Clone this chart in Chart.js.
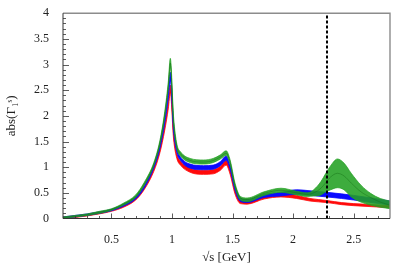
<!DOCTYPE html>
<html><head><meta charset="utf-8">
<script src="https://cdn.jsdelivr.net/npm/chart.js@4"></script>
<style>html,body{margin:0;padding:0;background:#fff}canvas{display:block}</style>
</head><body>
<canvas id="c" width="412" height="269"></canvas>
<script>
// ---- data ----
const xRB = [0.1,0.2,0.3,0.4,0.5,0.6,0.7,0.77,0.85,0.9,0.94,0.97,0.986,1.013,1.04,1.07,1.15,1.26,1.34,1.40,1.447,1.48,1.52,1.565,1.62,1.76,1.9,2.03,2.14,2.28,2.4,2.5,2.65,2.8];
const redLo  = [0.00,0.02,0.05,0.09,0.14,0.22,0.36,0.56,0.92,1.28,1.72,2.15,2.45,1.55,1.17,1.04,0.90,0.86,0.87,0.94,1.04,0.86,0.48,0.29,0.28,0.38,0.42,0.39,0.34,0.31,0.27,0.25,0.23,0.21];
const redHi  = [0.03,0.05,0.08,0.12,0.17,0.26,0.40,0.61,0.98,1.36,1.82,2.28,2.60,1.65,1.25,1.12,0.98,0.94,0.95,1.02,1.13,0.95,0.56,0.36,0.34,0.44,0.48,0.45,0.39,0.35,0.31,0.29,0.27,0.25];
const blueLo = [0.01,0.03,0.06,0.10,0.15,0.24,0.38,0.59,0.98,1.36,1.85,2.35,2.68,1.70,1.28,1.13,0.98,0.95,0.96,1.03,1.13,0.95,0.55,0.33,0.31,0.41,0.44,0.47,0.45,0.42,0.39,0.36,0.31,0.26];
const blueHi = [0.03,0.06,0.09,0.13,0.18,0.28,0.43,0.64,1.04,1.44,1.95,2.50,2.85,1.80,1.36,1.20,1.06,1.03,1.04,1.11,1.22,1.04,0.63,0.40,0.37,0.47,0.51,0.56,0.54,0.51,0.48,0.45,0.40,0.34];

const xG = [0.1,0.2,0.3,0.4,0.5,0.6,0.7,0.77,0.85,0.9,0.94,0.97,0.986,1.013,1.04,1.07,1.15,1.26,1.34,1.40,1.447,1.48,1.52,1.565,1.62,1.76,1.9,2.03,2.12,2.17,2.23,2.27,2.31,2.366,2.42,2.48,2.56,2.64,2.72,2.8];
const greenLo  = [0.01,0.03,0.06,0.10,0.16,0.26,0.41,0.64,1.03,1.44,1.98,2.55,2.95,1.85,1.36,1.22,1.09,1.06,1.09,1.16,1.23,1.05,0.61,0.36,0.33,0.45,0.51,0.46,0.43,0.44,0.46,0.52,0.56,0.60,0.56,0.42,0.32,0.26,0.22,0.19];
const greenHi  = [0.03,0.06,0.09,0.14,0.19,0.30,0.46,0.70,1.09,1.52,2.08,2.68,3.12,1.98,1.45,1.30,1.17,1.14,1.17,1.24,1.32,1.14,0.69,0.43,0.40,0.52,0.59,0.53,0.50,0.56,0.72,0.88,1.03,1.16,1.08,0.88,0.65,0.49,0.39,0.34];
const greenMid = [0.02,0.045,0.075,0.12,0.175,0.28,0.435,0.67,1.06,1.48,2.03,2.60,3.03,1.90,1.40,1.26,1.13,1.10,1.13,1.20,1.27,1.10,0.65,0.40,0.37,0.49,0.55,0.50,0.47,0.50,0.59,0.70,0.81,0.88,0.83,0.69,0.52,0.41,0.32,0.26];

const thresholdX = 2.28;
const xTicks = [0.5, 1, 1.5, 2, 2.5];
const yTicks = [0, 0.5, 1, 1.5, 2, 2.5, 3, 3.5, 4];
const xRange = [0.1, 2.8];
const yRange = [0, 4];

// ---- helpers ----
const pts = (xs, ys) => xs.map((x, i) => ({x: x, y: ys[i]}));
const RED = 'rgb(255,10,10)', BLUE = 'rgb(10,10,255)', GREEN = 'rgba(34,160,34,0.88)';

function edge(data, color, order, fillTarget) {
  return {
    data: data, borderColor: color, backgroundColor: color, borderWidth: 0.8,
    pointRadius: 0, cubicInterpolationMode: 'monotone', order: order,
    fill: fillTarget === undefined ? false : fillTarget
  };
}

const inwardTicks = {
  id: 'inwardTicks',
  afterDatasetsDraw(chart) {
    const {ctx, chartArea: a, scales: {x, y}} = chart;
    ctx.save();
    ctx.strokeStyle = '#333';
    ctx.lineWidth = 0.8;
    ctx.beginPath();
    for (let i = 2; i <= 27; i++) {
      const px = Math.round(x.getPixelForValue(i / 10)) + 0.5;
      const len = (i % 5 === 0) ? 5 : 2.5;
      ctx.moveTo(px, a.bottom); ctx.lineTo(px, a.bottom - len);
    }
    for (let i = 1; i <= 39; i++) {
      const py = Math.round(y.getPixelForValue(i / 10)) + 0.5;
      const len = (i % 5 === 0) ? 6 : 3;
      ctx.moveTo(a.left, py); ctx.lineTo(a.left + len, py);
    }
    ctx.stroke();
    ctx.strokeStyle = '#8c8c8c';
    ctx.lineWidth = 1.4;
    ctx.beginPath();
    ctx.moveTo(a.left, a.top); ctx.lineTo(a.right, a.top); ctx.lineTo(a.right, a.bottom);
    ctx.stroke();
    ctx.strokeStyle = '#333';
    ctx.lineWidth = 1;
    ctx.beginPath();
    ctx.moveTo(a.left, a.top); ctx.lineTo(a.left, a.bottom); ctx.lineTo(a.right, a.bottom);
    ctx.stroke();
    ctx.restore();
  }
};

Chart.defaults.font.family = "'Liberation Serif', 'DejaVu Serif', serif";
Chart.defaults.color = '#222';

const fmt = v => String(Number(v));

new Chart(document.getElementById('c'), {
  type: 'line',
  data: {
    datasets: [
      { data: [{x: thresholdX, y: yRange[0]}, {x: thresholdX, y: yRange[1]}], borderColor: '#000',
        borderWidth: 2, borderDash: [3, 2], pointRadius: 0, fill: false, order: -1 },
      { data: pts(xG, greenMid), borderColor: 'rgba(20,110,20,0.55)', borderWidth: 0.8, pointRadius: 0,
        cubicInterpolationMode: 'monotone', fill: false, order: 0 },
      edge(pts(xG, greenHi), GREEN, 1, 3),
      edge(pts(xG, greenLo), GREEN, 1),
      edge(pts(xRB, blueHi), BLUE, 2, 5),
      edge(pts(xRB, blueLo), BLUE, 2),
      edge(pts(xRB, redHi), RED, 3, 7),
      edge(pts(xRB, redLo), RED, 3)
    ]
  },
  options: {
    responsive: false,
    animation: false,
    devicePixelRatio: 1,
    layout: { padding: { left: 0, right: 22, top: 13, bottom: 0 } },
    plugins: { legend: { display: false }, tooltip: { enabled: false } },
    scales: {
      x: {
        type: 'linear', min: xRange[0], max: xRange[1],
        grid: { display: false }, border: { display: false },
        afterBuildTicks: s => { s.ticks = xTicks.map(v => ({value: v})); },
        afterFit: s => { s.height = 50.5; },
        ticks: { font: { size: 12 }, padding: 6, maxRotation: 0, callback: fmt },
        title: { display: true, text: '√s [GeV]', font: { size: 13 }, padding: { top: 0, bottom: 4 } }
      },
      y: {
        type: 'linear', min: yRange[0], max: yRange[1],
        grid: { display: false }, border: { display: false },
        afterBuildTicks: s => { s.ticks = yTicks.map(v => ({value: v})); },
        afterFit: s => { s.width = 63; },
        ticks: { font: { size: 12 }, padding: 6, callback: fmt },
        title: { display: true, text: 'abs(Γ₁ˢ)', font: { size: 13 }, padding: { top: 4, bottom: 0 } }
      }
    }
  },
  plugins: [inwardTicks]
});
</script>
</body></html>
